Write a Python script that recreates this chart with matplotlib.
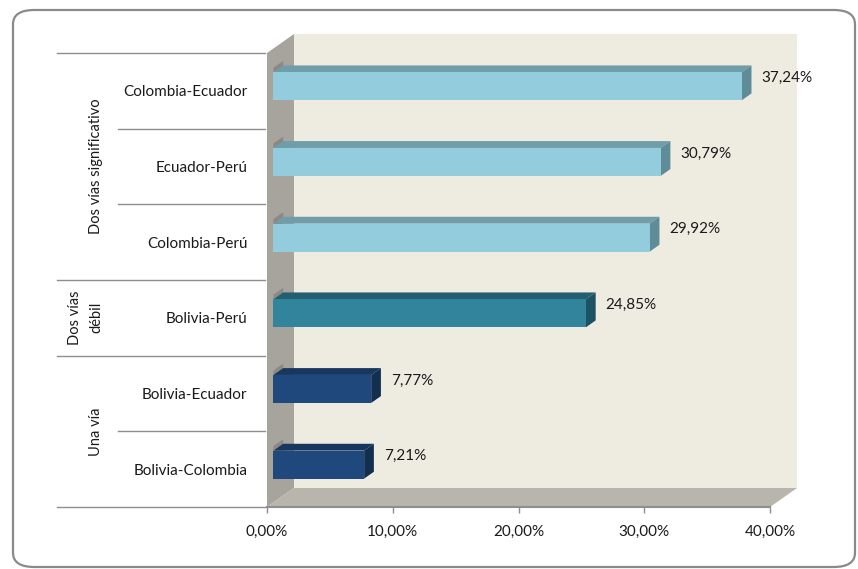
"""
3D-style horizontal bar chart (Excel look) redone with matplotlib
"""

import numpy as np
import matplotlib
matplotlib.use('Agg')
import matplotlib.pyplot as plt
from matplotlib.patches import Polygon, FancyBboxPatch
from matplotlib.lines import Line2D

# data (bottom to top)
pairs = ['Bolivia-Colombia', 'Bolivia-Ecuador', 'Bolivia-Perú',
         'Colombia-Perú', 'Ecuador-Perú', 'Colombia-Ecuador']
values = [7.21, 7.77, 24.85, 29.92, 30.79, 37.24]
labels = ['7,21%', '7,77%', '24,85%', '29,92%', '30,79%', '37,24%']
groups = ['Una vía', 'Dos vías\ndébil', 'Dos vías significativo']
group_rows = [(0, 1), (2, 2), (3, 5)]
xticks = [0, 10, 20, 30, 40]
xticklabels = ['0,00%', '10,00%', '20,00%', '30,00%', '40,00%']

# colours: front, top, side
col_light = ('#93CDDD', '#6F9DAA', '#5E8C99')
col_teal = ('#31849B', '#235F70', '#1D5262')
col_dark = ('#1F497D', '#17375E', '#132F50')
bar_cols = [col_dark, col_dark, col_teal, col_light, col_light, col_light]

plt.rcParams['font.family'] = ['Lato', 'DejaVu Sans']
fs = 11

W, H = 858, 569
fig = plt.figure(figsize=(W/100, H/100), dpi=100)

# outer rounded frame
frame = FancyBboxPatch((13/W, 2/H), 842/W, 557/H,
                       boxstyle='round,pad=0,rounding_size=0.025',
                       transform=fig.transFigure, facecolor='white',
                       edgecolor='#8A8A8A', linewidth=1.6, zorder=-5)
fig.patches.append(frame)

# front plane of the plot: x 0..40 -> px 267..770, rows -> px 507..53
ax = fig.add_axes([267/W, (H-507)/H, (770-267)/W, (507-53)/H])
ax.set_zorder(1)
ax.set_xlim(0, 40)
ax.set_ylim(-0.5, 5.5)
ax.patch.set_visible(False)
for s in ax.spines.values():
    s.set_visible(False)

# depth offset (full depth) in data units
DX = 27 / (ax.bbox.width / 40)
DY = 19 / (ax.bbox.height / 6)

def P(x, y, d):
    return (x + d*DX, y + d*DY)

# walls
back = Polygon([P(0, -0.5, 1), P(40, -0.5, 1), P(40, 5.5, 1), P(0, 5.5, 1)],
               closed=True, facecolor='#EEEBE1', edgecolor='none', zorder=0.5, clip_on=False)
side = Polygon([P(0, -0.5, 0), P(0, -0.5, 1), P(0, 5.5, 1), P(0, 5.5, 0)],
               closed=True, facecolor='#A7A49D', edgecolor='none', zorder=0.6, clip_on=False)
floor = Polygon([P(0, -0.5, 0), P(40, -0.5, 0), P(40, -0.5, 1), P(0, -0.5, 1)],
                closed=True, facecolor='#B8B5AD', edgecolor='none', zorder=0.6, clip_on=False)
for p in (back, side, floor):
    ax.add_patch(p)
ax.plot([0, 40], [-0.5, -0.5], color='#8E8E8E', linewidth=1.5, clip_on=False, zorder=0.7)

# bars
d0, d1 = 0.24, 0.6
dd = d1 - d0
h = 0.37
yc = np.arange(len(pairs))
fronts = ax.barh(yc + d0*DY, values, left=d0*DX, height=h,
                 color=[c[0] for c in bar_cols], edgecolor='none', zorder=3)
for i, v in enumerate(values):
    x0 = d0*DX
    x1 = v + d0*DX
    yt = yc[i] + d0*DY + h/2
    yb = yc[i] + d0*DY - h/2
    top = Polygon([(x0, yt), (x1, yt), (x1 + dd*DX, yt + dd*DY), (x0 + dd*DX, yt + dd*DY)],
                  closed=True, facecolor=bar_cols[i][1], edgecolor='none', zorder=2.9)
    cap = Polygon([(x1, yb), (x1 + dd*DX, yb + dd*DY), (x1 + dd*DX, yt + dd*DY), (x1, yt)],
                  closed=True, facecolor=bar_cols[i][2], edgecolor='none', zorder=2.9)
    ax.add_patch(top)
    ax.add_patch(cap)
    # slight shadow on the side wall
    ax.add_patch(Polygon([P(0, yb, d0), P(0, yb, d1), P(0, yt, d1), P(0, yt, d0)],
                         closed=True, facecolor='#8C8983', edgecolor='none', zorder=0.65, clip_on=False))
    ax.text(x1 + dd*DX + 10/(ax.bbox.width/40), yc[i] + 0.17, labels[i],
            fontsize=fs, va='center', ha='left', color='#1A1A1A', zorder=4)

# axes ticks
ax.set_xticks(xticks)
ax.set_xticklabels(xticklabels, fontsize=fs)
ax.tick_params(axis='x', length=4, width=1, color='#8E8E8E', pad=9, labelcolor='#1A1A1A')
ax.set_yticks(yc)
ax.set_yticklabels(pairs, fontsize=fs)
ax.tick_params(axis='y', length=0, pad=14, labelcolor='#1A1A1A')

# category separators in the label area
def fx(p):
    return (p - 267) / (770 - 267)
trans = ax.get_yaxis_transform()
outer = [-0.5, 1.5, 2.5, 5.5]
for y in [-0.5 + k for k in range(7)]:
    x_start = fx(57) if y in outer else fx(118)
    ax.add_line(Line2D([x_start, fx(265)], [y, y], transform=trans,
                       color='#8E8E8E', linewidth=1, clip_on=False))

# group labels (two-line one drawn line by line to control the gap)
for g, (r0, r1) in zip(groups, group_rows):
    parts = g.split('\n')
    if len(parts) == 1:
        xs = [fx(96)]
    else:
        xs = [fx(75), fx(96)]
    for part, xg in zip(parts, xs):
        ax.text(xg, (r0 + r1)/2, part, transform=trans, rotation=90, fontsize=10.5,
                ha='center', va='center', color='#1A1A1A')

fig.savefig('out.png', dpi=100)
